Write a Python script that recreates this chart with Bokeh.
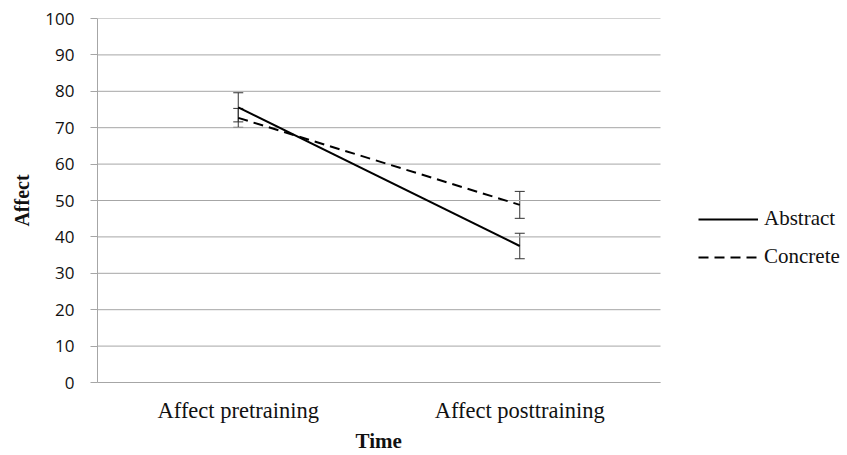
from bokeh.plotting import figure
from bokeh.models import ColumnDataSource, Whisker, TeeHead, Legend, LegendItem, FixedTicker, Title
from bokeh.embed import file_html
from bokeh.resources import INLINE

times = ["Affect pretraining", "Affect posttraining"]
abstract_mean = [75.6, 37.5]
abstract_err = [4.0, 3.5]
concrete_mean = [72.7, 48.8]
concrete_err = [2.6, 3.7]
y_ticks = [0, 10, 20, 30, 40, 50, 60, 70, 80, 90, 100]

# category centres on a numeric axis (category i spans [i, i+1])
xpos = [i + 0.5 for i in range(len(times))]
n_cat = len(times)
# frame spans plot area + legend area; plot area = n_cat units (563 px of 750 px)
x_end = n_cat * 750 / 563

p = figure(x_range=(0, x_end), y_range=(0, 100), width=847, height=455,
           output_backend="svg", toolbar_location=None,
           min_border_left=97, min_border_right=0, min_border_top=18, min_border_bottom=73)
p.outline_line_color = None
p.background_fill_color = "white"

sa = ColumnDataSource(dict(x=xpos, y=abstract_mean,
                           lo=[m - e for m, e in zip(abstract_mean, abstract_err)],
                           hi=[m + e for m, e in zip(abstract_mean, abstract_err)]))
sc = ColumnDataSource(dict(x=xpos, y=concrete_mean,
                           lo=[m - e for m, e in zip(concrete_mean, concrete_err)],
                           hi=[m + e for m, e in zip(concrete_mean, concrete_err)]))

# horizontal gridlines limited to the category area
p.segment(x0=[0] * len(y_ticks), x1=[n_cat] * len(y_ticks), y0=y_ticks, y1=y_ticks,
          line_color="#a6a6a6", line_width=1)

ra = p.line("x", "y", source=sa, line_color="black", line_width=2)
rc = p.line("x", "y", source=sc, line_color="black", line_width=2, line_dash="10 6")

for s in (sa, sc):
    w = Whisker(base="x", lower="lo", upper="hi", source=s, line_color="#333333", line_width=1,
                upper_head=TeeHead(size=10, line_color="#333333", line_width=1),
                lower_head=TeeHead(size=10, line_color="#333333", line_width=1))
    p.add_layout(w)

# axes
p.yaxis.ticker = FixedTicker(ticks=y_ticks)
p.yaxis.minor_tick_line_color = None
p.yaxis.major_tick_in = 0
p.yaxis.major_tick_out = 7
p.yaxis.major_tick_line_color = "#a6a6a6"
p.yaxis.axis_line_color = "#a6a6a6"
p.yaxis.major_label_text_font = "Open Sans"
p.yaxis.major_label_text_font_size = "17px"
p.yaxis.major_label_text_color = "#111111"
p.yaxis.major_label_standoff = 16
p.yaxis.axis_label = "Affect"
p.yaxis.axis_label_text_font = "Liberation Serif"
p.yaxis.axis_label_text_font_style = "bold"
p.yaxis.axis_label_text_font_size = "20px"
p.yaxis.axis_label_text_color = "#111111"
p.yaxis.axis_label_standoff = 9

p.xaxis.ticker = FixedTicker(ticks=xpos)
p.xaxis.major_label_overrides = {x: t for x, t in zip(xpos, times)}
p.xaxis.bounds = (0, n_cat)
p.xaxis.major_tick_line_color = None
p.xaxis.major_tick_out = 0
p.xaxis.major_tick_in = 0
p.xaxis.minor_tick_line_color = None
p.xaxis.axis_line_color = "#a6a6a6"
p.xaxis.major_label_text_font = "Liberation Serif"
p.xaxis.major_label_text_font_size = "22.5px"
p.xaxis.major_label_text_color = "#111111"
p.xaxis.major_label_standoff = 15

p.xgrid.grid_line_color = None
p.ygrid.grid_line_color = None

# x-axis title, centred under the category area (not under the legend area)
p.add_layout(Title(text="Time", align="left", offset=258, standoff=2,
                   text_font="Liberation Serif", text_font_style="bold",
                   text_font_size="21px", text_color="#111111"), "below")

legend = Legend(items=[LegendItem(label="Abstract", renderers=[ra]),
                       LegendItem(label="Concrete", renderers=[rc])],
                location=(601, 113), orientation="vertical",
                border_line_color=None, background_fill_alpha=0,
                label_text_font="Liberation Serif", label_text_font_size="21px",
                label_text_color="#111111", glyph_width=60, glyph_height=24,
                label_height=24,
                label_standoff=6, spacing=13, padding=0, margin=0)
p.add_layout(legend, "center")

open("out.html", "w").write(file_html(p, INLINE))
